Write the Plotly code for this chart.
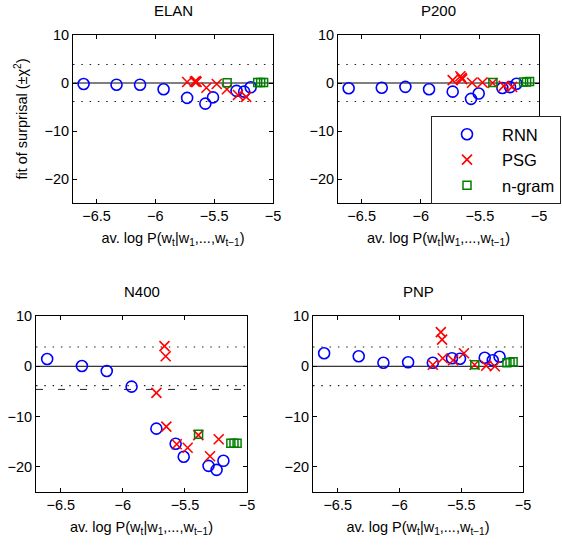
import plotly.graph_objects as go

# ---------------- data ----------------
panel_names = ["ELAN", "P200", "N400", "PNP"]

rnn_x = [-6.61, -6.33, -6.13, -5.93, -5.73, -5.575, -5.51, -5.31, -5.245, -5.19]
psg_x = [-5.73, -5.665, -5.655, -5.65, -5.566, -5.478, -5.392, -5.298, -5.228]
ngram_x = [-5.39, -5.13, -5.105, -5.08]

rnn_elan = [-0.2, -0.35, -0.35, -1.3, -3.1, -4.3, -3.0, -1.65, -1.8, -0.9]
rnn_p200 = [-1.1, -1.0, -0.8, -1.3, -1.8, -3.3, -2.2, -1.05, -0.85, -0.15]
rnn_n400 = [1.45, 0.06, -0.93, -4.05, -12.4, -15.4, -18.0, -19.8, -20.6, -18.8]
rnn_pnp = [2.6, 2.0, 0.7, 0.8, 0.7, 1.6, 1.5, 1.7, 1.2, 1.9]

psg_elan = [0.2, 0.3, 0.4, 0.2, -1.0, -0.2, -1.3, -2.5, -2.9]
psg_p200 = [0.6, 1.4, 1.1, 0.8, 0.05, 0.1, 0.0, -0.6, -0.8]
psg_n400 = [-5.3, 4.0, 2.0, -12.0, -15.5, -16.2, -13.7, -17.9, -14.5]
psg_pnp = [0.3, 6.8, 5.3, 1.6, 1.2, 2.6, 0.3, 0.1, 0.0]

ngram_elan = [0.05, 0.1, 0.1, 0.1]
ngram_p200 = [0.1, 0.2, 0.2, 0.3]
ngram_n400 = [-13.5, -15.3, -15.3, -15.3]
ngram_pnp = [0.3, 0.7, 0.8, 0.9]

chi2_crit = 3.84
n400_dashed = -4.6

x_ticks = [-6.5, -6, -5.5, -5]
y_ticks = [-20, -10, 0, 10]
x_range = [-6.7, -5]
y_range = [-25, 10]

series_names = ["RNN", "PSG", "n-gram"]

# ---------------- layout helpers ----------------
W, H = 562, 546
# pixel boxes (left, right, top, bottom)
boxes = [
    (73, 273, 35, 203),
    (338, 539, 35, 203),
    (36, 247, 316, 492),
    (313, 523, 316, 492),
]

FONT = "Liberation Sans, Arial, Helvetica, sans-serif"

fig = go.Figure()

panel_data = [
    (rnn_elan, psg_elan, ngram_elan),
    (rnn_p200, psg_p200, ngram_p200),
    (rnn_n400, psg_n400, ngram_n400),
    (rnn_pnp, psg_pnp, ngram_pnp),
]

xtitle = "av. log P(w<sub>t</sub>|w<sub>1</sub>,...,w<sub>t\u22121</sub>)"

for i, (name, (ry, py, ny), box) in enumerate(zip(panel_names, panel_data, boxes)):
    k = "" if i == 0 else str(i + 1)
    xa, ya = "x" + k, "y" + k
    show = i == 0
    fig.add_trace(go.Scatter(
        x=rnn_x, y=ry, mode="markers", name=series_names[0], xaxis=xa, yaxis=ya,
        showlegend=show, legendgroup="a",
        marker=dict(symbol="circle-open", size=11, color="#0000FF",
                    line=dict(width=1.6, color="#0000FF"))))
    fig.add_trace(go.Scatter(
        x=psg_x, y=py, mode="markers", name=series_names[1], xaxis=xa, yaxis=ya,
        showlegend=show, legendgroup="b",
        marker=dict(symbol="x-thin-open", size=10, color="#FF0000",
                    line=dict(width=1.6, color="#FF0000"))))
    fig.add_trace(go.Scatter(
        x=ngram_x, y=ny, mode="markers", name=series_names[2], xaxis=xa, yaxis=ya,
        showlegend=show, legendgroup="c",
        marker=dict(symbol="square-open", size=8, color="#008000",
                    line=dict(width=1.5, color="#008000"))))

    l, r, t, b = box
    axcommon = dict(showline=True, linecolor="black", linewidth=1, mirror="ticks",
                    ticks="inside", ticklen=4, tickcolor="black", showgrid=False,
                    zeroline=False, tickfont=dict(family=FONT, size=14.5, color="black"))
    xkw = dict(axcommon, domain=[l / W, r / W], range=x_range, tickvals=x_ticks,
               ticktext=[f"{v:g}".replace("-", "\u2212") for v in x_ticks],
               anchor=ya,
               title=dict(text=xtitle, font=dict(family=FONT, size=14.5, color="black"),
                          standoff=9))
    ykw = dict(axcommon, domain=[1 - b / H, 1 - t / H], range=y_range, tickvals=y_ticks,
               ticktext=[f"{v:g}".replace("-", "\u2212") for v in y_ticks],
               anchor=xa)
    if i == 0:
        ykw["title"] = dict(text="fit of surprisal (\u00b1\u03c7<sup>2</sup>)",
                            font=dict(family=FONT, size=14.5, color="black"), standoff=13)
    fig.update_layout({"xaxis" + k: xkw, "yaxis" + k: ykw})

    # reference lines
    fig.add_shape(type="line", xref=xa + " domain", yref=ya, x0=0, x1=1, y0=0, y1=0,
                  line=dict(color="black", width=1), layer="below")
    for yv in (chi2_crit, -chi2_crit):
        fig.add_shape(type="line", xref=xa + " domain", yref=ya, x0=0, x1=1, y0=yv, y1=yv,
                      line=dict(color="#222222", width=1.1, dash="1.5px,6.8px"), layer="below")
    if name == "N400":
        fig.add_shape(type="line", xref=xa + " domain", yref=ya, x0=0, x1=1,
                      y0=n400_dashed, y1=n400_dashed,
                      line=dict(color="#222222", width=1, dash="7px,15px"), layer="below")

    # panel title
    fig.add_annotation(text=name, xref="paper", yref="paper",
                       x=(l + r) / 2 / W, y=1 - (t - 14) / H, xanchor="center", yanchor="bottom",
                       showarrow=False, font=dict(family=FONT, size=15, color="black"))

fig.update_layout(
    width=W, height=H,
    margin=dict(l=0, r=0, t=0, b=0, autoexpand=False),
    paper_bgcolor="white", plot_bgcolor="white",
    showlegend=True,
    legend=dict(x=431 / W, y=1 - 116 / H, xanchor="left", yanchor="top",
                bordercolor="#222222", borderwidth=1, bgcolor="white",
                font=dict(family=FONT, size=16.5, color="black"),
                traceorder="grouped", tracegroupgap=1, indentation=0, itemwidth=60),
)

fig.write_html("out.html", config={"displayModeBar": False},
               post_script="document.body.style.margin='0';document.body.style.overflow='hidden';")
